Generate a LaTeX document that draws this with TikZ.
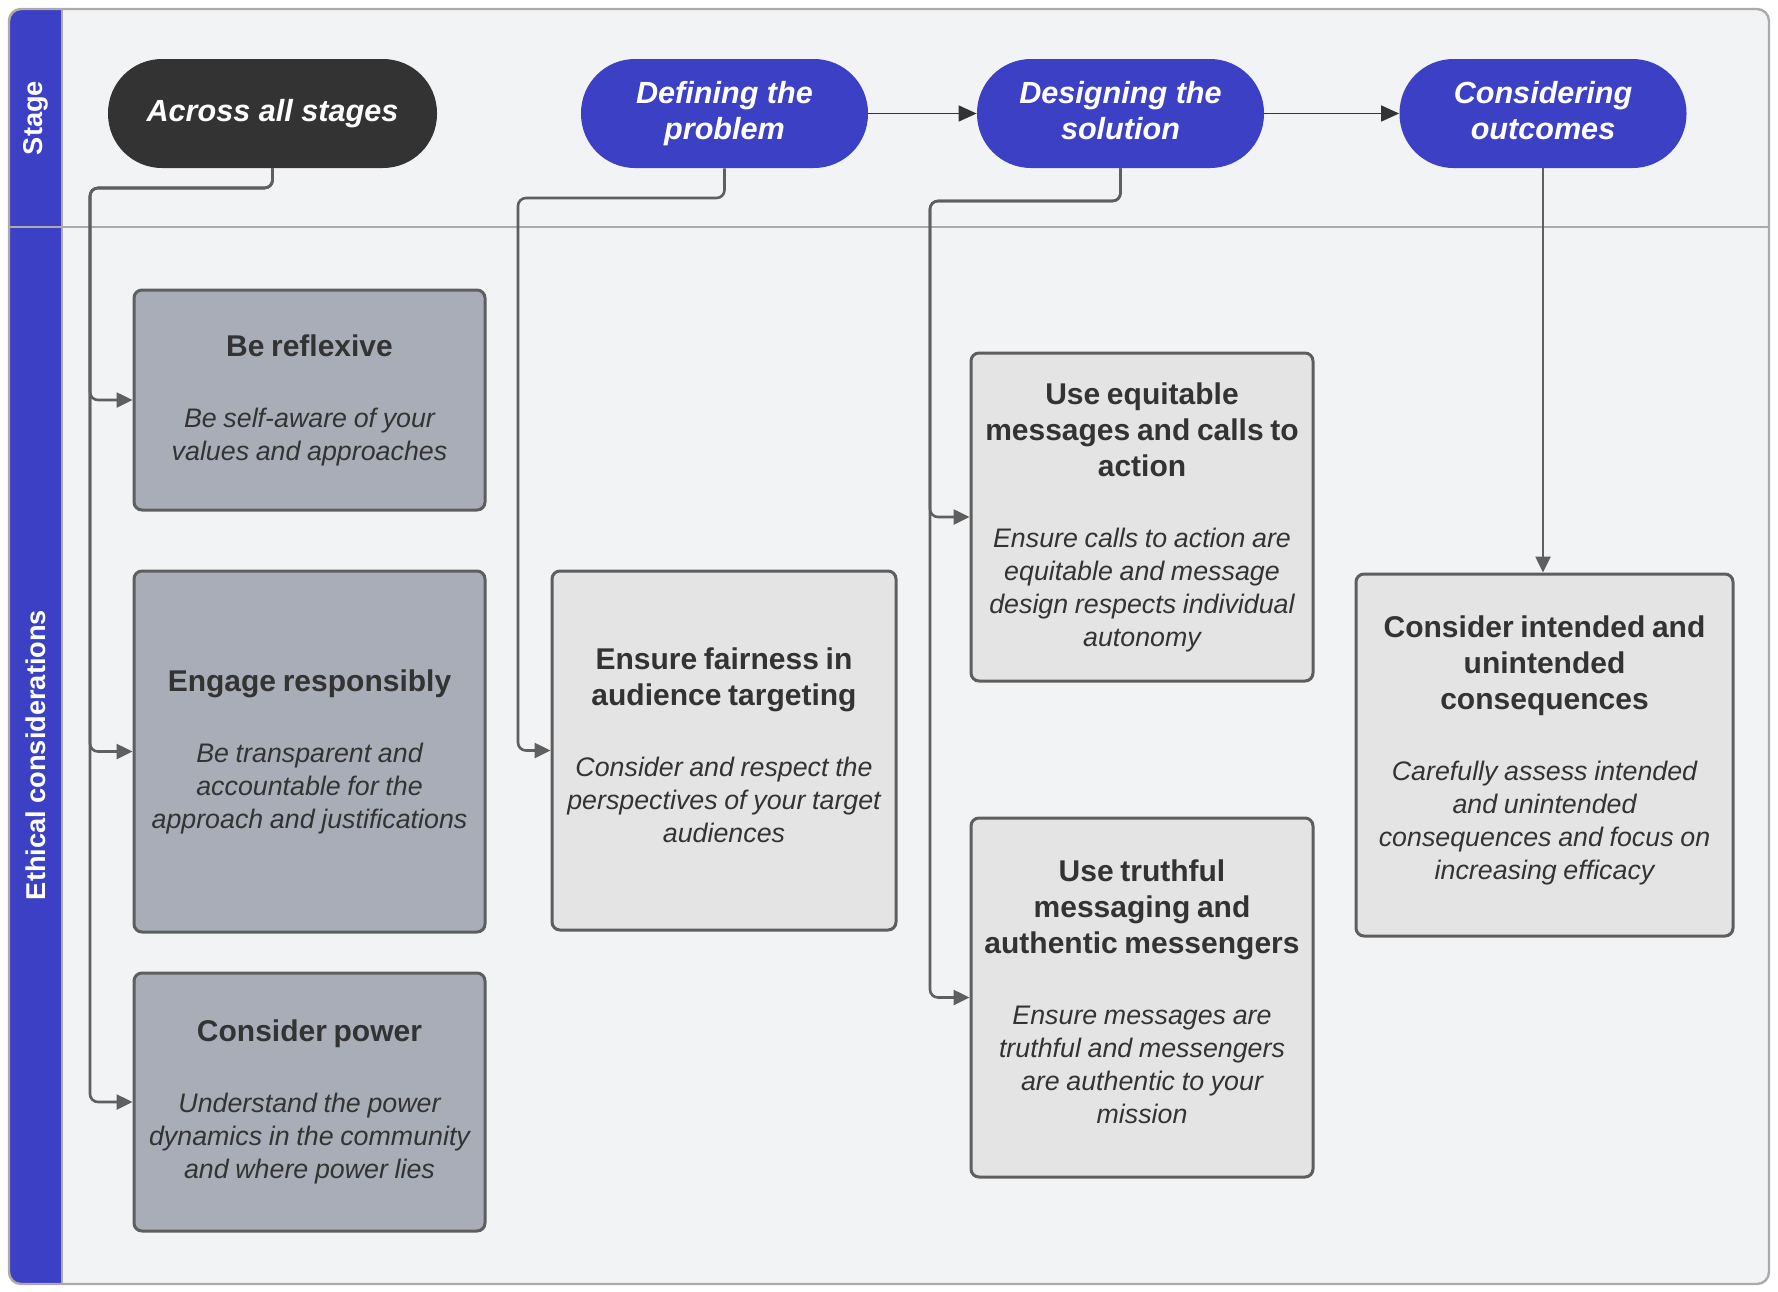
\documentclass[tikz,border=0pt]{standalone}
\usepackage{fontspec}
\setmainfont{Liberation Sans}
\usetikzlibrary{arrows.meta}
\definecolor{laneblue}{HTML}{3B40C4}
\definecolor{pilldark}{HTML}{333333}
\definecolor{paper}{HTML}{F2F3F5}
\definecolor{framegray}{HTML}{ABABAB}
\definecolor{cardline}{HTML}{5E5E5E}
\definecolor{darkfill}{HTML}{A8ADB8}
\definecolor{lightfill}{HTML}{E4E4E4}
\definecolor{inktext}{HTML}{333333}
\definecolor{linkgray}{HTML}{5F5F5F}
\newcommand{\cardtext}[2]{{\fontsize{15}{18}\selectfont\bfseries #1\par}\vspace{19pt}{\fontsize{13.4}{16.5}\selectfont\itshape #2\par}}

\tikzset{
	stagepill/.style={fill=laneblue, text=white, font=\fontsize{15.3}{18}\selectfont\bfseries\itshape, align=center, minimum width=143.5pt, minimum height=54.5pt, rounded corners=27pt, inner sep=0pt, text depth=3.3pt},
	card/.style={draw=cardline, line width=1.5pt, rounded corners=4pt, text=inktext, text width=170pt, align=center, inner xsep=0pt},
	darkcard/.style={card, fill=darkfill},
	lightcard/.style={card, fill=lightfill},
	link/.style={draw=linkgray, line width=1.3pt, rounded corners=4pt, -{Triangle[length=8pt,width=7.5pt]}},
	flow/.style={draw=pilldark, line width=0.8pt, -{Triangle[length=9pt,width=8pt]}},
	lanelabel/.style={text=white, font=\fontsize{13.6}{15}\selectfont\bfseries, rotate=90}
}

\begin{document}
\begin{tikzpicture}[x=0.5pt, y=-0.5pt]
\useasboundingbox (0,0) rectangle (1778,1291);
\fill[white] (0,0) rectangle (1778,1291);
\begin{scope}
	\clip[rounded corners=6pt] (9,9) rectangle (1769,1284);
	\fill[paper] (9,9) rectangle (1769,1284);
	\fill[laneblue] (9,9) rectangle (62,1284);
\end{scope}
\draw[framegray, line width=1.2pt] (9,227) -- (1769,227);
\draw[framegray, line width=1.2pt] (62,9) -- (62,1284);
\draw[framegray, line width=1.2pt, rounded corners=6pt] (9,9) rectangle (1769,1284);

\node[lanelabel] (stagelbl) at (35.5,118) {Stage};
\node[lanelabel] (ethicslbl) at (35.5,755) {Ethical considerations};

\node[stagepill, fill=pilldark, minimum width=164.5pt] (across) at (272.5,113.5) {Across all stages};
\node[stagepill] (problem) at (724.5,113.5) {Defining the\\problem};
\node[stagepill] (solution) at (1120.5,113.5) {Designing the\\solution};
\node[stagepill] (outcomes) at (1543,113.5) {Considering\\outcomes};

\node[darkcard, minimum width=175.5pt, minimum height=110pt] (reflexive) at (309.5,400)
	{\cardtext{Be reflexive}{Be self-aware of your\\values and approaches}};
\node[darkcard, minimum width=175.5pt, minimum height=180.5pt] (engage) at (309.5,751.5)
	{\cardtext{Engage responsibly}{Be transparent and\\accountable for the\\approach and justifications}};
\node[darkcard, minimum width=175.5pt, minimum height=129pt] (power) at (309.5,1102)
	{\cardtext{Consider power}{Understand the power\\dynamics in the community\\and where power lies}};
\node[lightcard, minimum width=172pt, minimum height=179.5pt] (fairness) at (724,750.5)
	{\cardtext{Ensure fairness in\\audience targeting}{Consider and respect the\\perspectives of your target\\audiences}\kern5.7pt};
\node[lightcard, minimum width=171pt, minimum height=164pt] (equitable) at (1142,517)
	{\cardtext{Use equitable\\messages and calls to\\action}{Ensure calls to action are\\equitable and message\\design respects individual\\autonomy}};
\node[lightcard, minimum width=171pt, minimum height=179.5pt] (truthful) at (1142,997.5)
	{\cardtext{Use truthful\\messaging and\\authentic messengers}{Ensure messages are\\truthful and messengers\\are authentic to your\\mission}\kern5.7pt};
\node[lightcard, text width=184pt, minimum width=188.5pt, minimum height=181pt] (intended) at (1544.5,755)
	{\cardtext{Consider intended and\\unintended\\consequences}{Carefully assess intended\\and unintended\\consequences and focus on\\increasing efficacy}\kern4.5pt};

\draw[flow] (problem.east) -- (solution.west);
\draw[flow] (solution.east) -- (outcomes.west);

\coordinate (allbend) at (90,188);
\coordinate (problembend) at (518,198);
\coordinate (solutionbend) at (930,201);

\draw[link] (across.south) |- (allbend) |- (reflexive.west);
\draw[link] (across.south) |- (allbend) |- (engage.west);
\draw[link] (across.south) |- (allbend) |- (power.west);
\draw[link] (problem.south) |- (problembend) |- (fairness.west);
\draw[link] (solution.south) |- (solutionbend) |- (equitable.west);
\draw[link] (solution.south) |- (solutionbend) |- (truthful.west);
\draw[link] (outcomes.south) -- (outcomes.south |- intended.north);
\end{tikzpicture}
\end{document}
